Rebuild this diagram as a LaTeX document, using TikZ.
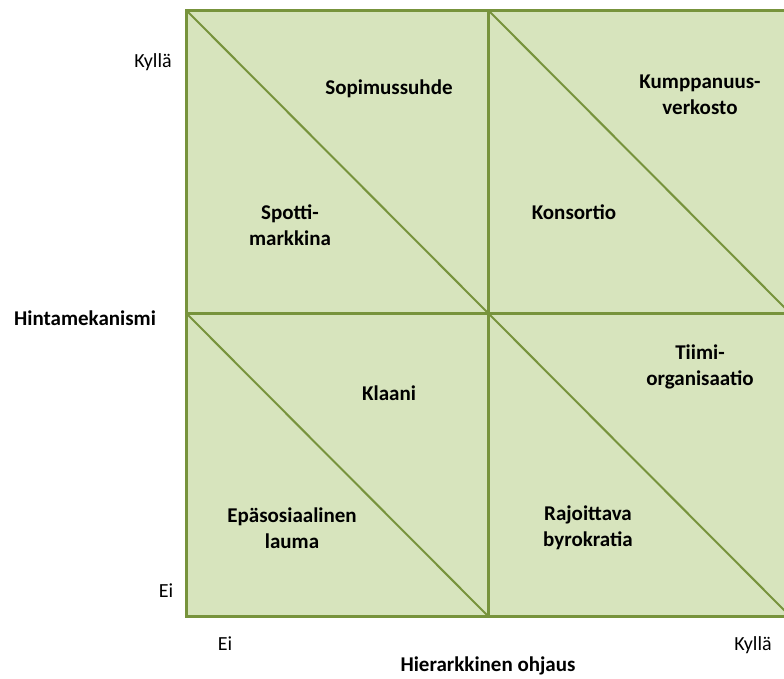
\documentclass[tikz,border=0pt]{standalone}
\usepackage{fontspec}
\setmainfont{Carlito}
\definecolor{cellfill}{HTML}{D7E4BD}
\definecolor{cellline}{HTML}{77933C}
\begin{document}
\begin{tikzpicture}[x=1pt,y=-1pt,
  cell/.style={fill=cellfill,draw=cellline,line width=3pt},
  diag/.style={draw=cellline,line width=2pt},
  lab/.style={font=\fontsize{21}{26}\selectfont\bfseries,align=center,inner sep=0pt},
  axis/.style={font=\fontsize{20}{26}\selectfont,inner sep=0pt,text height=1.4ex,text depth=0.3ex}]
\useasboundingbox (0,0) rectangle (784,678);
\begin{scope}
\clip (0,0) rectangle (784,678);
\coordinate (tl) at (186,10);
\coordinate (tm) at (488,10);
\coordinate (tr) at (790,10);
\coordinate (ml) at (186,313);
\coordinate (mm) at (488,313);
\coordinate (mr) at (790,313);
\coordinate (bl) at (186,616);
\coordinate (bm) at (488,616);
\coordinate (br) at (790,616);
\fill[cellfill] (tl) rectangle (br);
\draw[diag] (tl) -- (mm);
\draw[diag] (tm) -- (mr);
\draw[diag] (ml) -- (bm);
\draw[diag] (mm) -- (br);
\draw[cell,fill=none] (tl) rectangle (br);
\draw[cell] (tm) -- (bm);
\draw[cell] (ml) -- (mr);
\end{scope}
\node[lab] (sop) at (389,89) {Sopimussuhde};
\node[lab] (spot) at (290,225) {Spotti-\\markkina};
\node[lab] (kump) at (700,95) {Kumppanuus-\\verkosto};
\node[lab] (kons) at (574,212) {Konsortio};
\node[lab] (klaa) at (389,393) {Klaani};
\node[lab] (tiim) at (700,367) {Tiimi-\\organisaatio};
\node[lab] (epa) at (292,528) {Epäsosiaalinen\\lauma};
\node[lab] (raj) at (588,528) {Rajoittava\\byrokratia};
\node[axis] (ky1) at (153,65) {Kyllä};
\node[axis] (ei1) at (166,595) {Ei};
\node[lab,text height=1.4ex,text depth=0.3ex] (hinta) at (85,323) {Hintamekanismi};
\node[axis] (ei2) at (225,648) {Ei};
\node[axis] (ky2) at (753,648) {Kyllä};
\node[lab,text height=1.4ex,text depth=0.3ex] (hier) at (488,669) {Hierarkkinen ohjaus};
\end{tikzpicture}
\end{document}
